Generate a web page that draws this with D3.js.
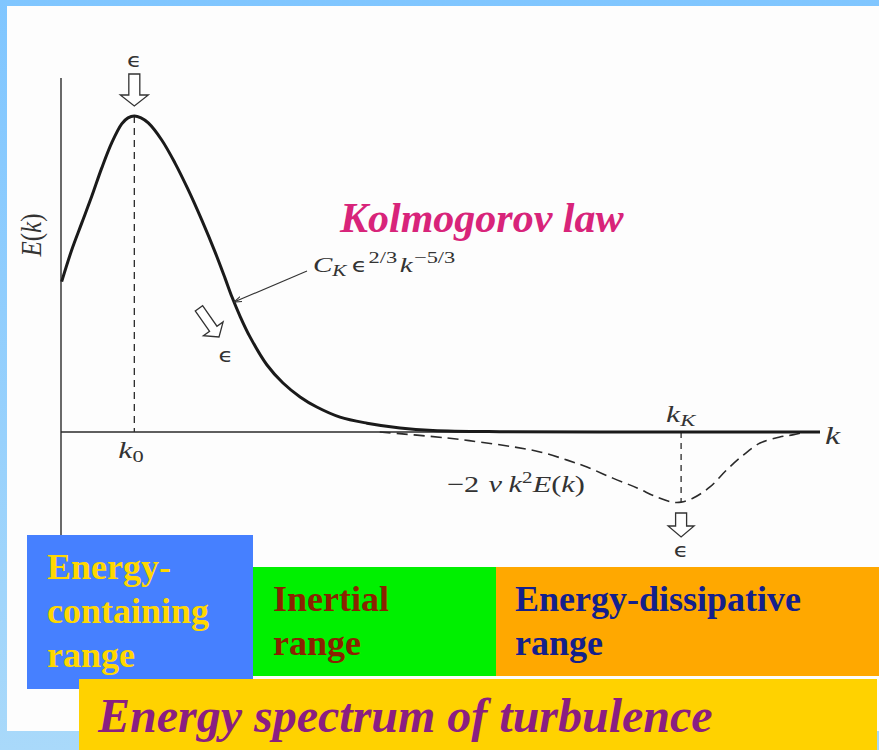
<!DOCTYPE html>
<html>
<head>
<meta charset="utf-8">
<script src="https://cdn.jsdelivr.net/npm/d3@7"></script>
<style>
  html, body { margin: 0; padding: 0; background: #fff; }
  #container { width: 879px; height: 750px; }
</style>
</head>
<body>
<div id="container"></div>
<script>
// Declare the chart dimensions.
const width = 879;
const height = 750;
const serif = "'Liberation Serif', 'Times New Roman', serif";

// Energy spectrum E(k) (k in arbitrary units, E scaled to peak = 1).
const kSpectrum = [0.09, 1.41, 2.73, 4.04, 5.36, 6.68, 8.0, 8.83, 9.66, 10.54, 11.5, 13.27, 15.02, 16.77, 18.54, 20.29, 21.61, 22.53, 23.58, 24.9, 27.14, 29.25, 31.5, 33.7, 36.76, 40.32, 44.66, 49.0, 57.8, 71, 100];
const eSpectrum = [0.476, 0.576, 0.661, 0.745, 0.835, 0.915, 0.975, 0.994, 1.0, 0.994, 0.978, 0.924, 0.851, 0.766, 0.671, 0.570, 0.487, 0.427, 0.367, 0.301, 0.212, 0.155, 0.111, 0.079, 0.047, 0.028, 0.013, 0.005, 0.001, 0, 0];

// Dissipation spectrum -2 nu k^2 E(k).
const kDissip = [42.0, 50.9, 55.2, 59.6, 63.1, 66.7, 69.3, 72.7, 75.9, 78.5, 80.6, 81.7, 83.3, 85.5, 87.7, 89.9, 92.1, 94.7, 96.4, 98.0];
const dDissip = [0, -0.019, -0.032, -0.047, -0.063, -0.089, -0.111, -0.146, -0.177, -0.206, -0.222, -0.222, -0.209, -0.174, -0.120, -0.073, -0.035, -0.016, -0.009, 0];

// Special wavenumbers and axis extents.
const k0 = 9.66;
const kK = 81.7;
const kAnnot = 22.53;
const kDomain = [0, 100];
const yExtent = [-0.33, 1.12];

// Range labels under the chart.
const rangeLabels = [
  ["Energy-", "containing", "range"],
  ["Inertial", "range"],
  ["Energy-dissipative", "range"]
];
const title = "Energy spectrum of turbulence";
const lawLabel = "Kolmogorov law";

// Scales.
const x = d3.scaleLinear().domain(kDomain).range([61, 820]);
const y = d3.scaleLinear().domain([0, 1]).range([432, 116]);

const svg = d3.create("svg").attr("width", width).attr("height", height)
  .attr("viewBox", [0, 0, width, height]);

// Slide background: blue frame and white page.
const defs = svg.append("defs");
const grad = defs.append("linearGradient").attr("id", "frame")
  .attr("x1", 0).attr("y1", 0).attr("x2", 0).attr("y2", 1);
grad.append("stop").attr("offset", "0%").attr("stop-color", "#80c6ff");
grad.append("stop").attr("offset", "100%").attr("stop-color", "#a9d9fa");
svg.append("rect").attr("width", width).attr("height", height).attr("fill", "url(#frame)");
svg.append("rect").attr("x", 7).attr("y", 6).attr("width", width - 7).attr("height", 725).attr("fill", "#fdfdfd");

// Arrowhead for the annotation line.
defs.append("marker").attr("id", "head").attr("viewBox", "0 0 10 10")
  .attr("refX", 10).attr("refY", 5).attr("markerWidth", 7).attr("markerHeight", 7)
  .attr("orient", "auto-start-reverse")
  .append("path").attr("d", "M0,1.5L10,5L0,8.5").attr("fill", "none").attr("stroke", "#333").attr("stroke-width", 1.3);

const ink = "#2a2a2a";

// Axes (no ticks, just the lines).
svg.append("line")
  .attr("x1", x(0)).attr("x2", x(0))
  .attr("y1", y(yExtent[1])).attr("y2", y(yExtent[0]))
  .attr("stroke", ink).attr("stroke-width", 1.4);
svg.append("g")
  .attr("transform", `translate(0,${y(0)})`)
  .call(d3.axisBottom(x).tickValues([]).tickSizeOuter(0))
  .call(g => g.select(".domain").attr("stroke", ink).attr("stroke-width", 1.6).attr("d", `M${x(0)},0H${x(100)}`));

// Dashed guides at k0 and kK.
const eAt = k => eSpectrum[kSpectrum.indexOf(k)];
const dMin = d3.min(dDissip);
svg.append("line")
  .attr("x1", x(k0)).attr("x2", x(k0)).attr("y1", y(eAt(k0))).attr("y2", y(0))
  .attr("stroke", ink).attr("stroke-width", 1.3).attr("stroke-dasharray", "7,5");
svg.append("line")
  .attr("x1", x(kK)).attr("x2", x(kK)).attr("y1", y(0)).attr("y2", y(dMin))
  .attr("stroke", ink).attr("stroke-width", 1.3).attr("stroke-dasharray", "6,5");

// Dissipation curve (dashed).
const line = d3.line().x(d => x(d[0])).y(d => y(d[1])).curve(d3.curveCatmullRom.alpha(0.5));
svg.append("path")
  .attr("d", line(d3.zip(kDissip, dDissip)))
  .attr("fill", "none").attr("stroke", ink).attr("stroke-width", 1.6).attr("stroke-dasharray", "11,6");

// Energy spectrum (solid, thick).
svg.append("path")
  .attr("d", line(d3.zip(kSpectrum, eSpectrum)))
  .attr("fill", "none").attr("stroke", "#1a1a1a").attr("stroke-width", 3);

// Hollow arrow: tip at (0,0), pointing down before rotation.
function hollowArrow(tx, ty, len, shaftW, headW, headL, angle) {
  const s = shaftW / 2, h = headW / 2;
  const pts = [[-s, -len], [s, -len], [s, -headL], [h, -headL], [0, 0], [-h, -headL], [-s, -headL]];
  svg.append("path")
    .attr("d", "M" + pts.join("L") + "Z")
    .attr("transform", `translate(${tx},${ty}) rotate(${angle})`)
    .attr("fill", "#fff").attr("stroke", "#333").attr("stroke-width", 1.3);
}
hollowArrow(x(k0), 106, 32, 11, 28, 11, 0);
hollowArrow(219, 337, 35, 9, 24, 10, -35);
hollowArrow(x(kK), 537, 24, 11, 26, 11, 0);

// Epsilon labels (the scanned figure is stretched sideways, so glyphs are widened).
const eps = (px, py) => svg.append("text")
  .attr("transform", `translate(${px},${py}) scale(1.2,1)`)
  .attr("text-anchor", "middle").attr("font-family", "DejaVu Sans")
  .attr("font-size", 20).attr("fill", "#333").text("ϵ");
eps(x(k0), 67);
eps(226, 362);
eps(x(kK), 557);

// Math labels.
const math = (px, py, size) => svg.append("text")
  .attr("transform", `translate(${px},${py}) scale(1.32,1)`)
  .attr("font-family", serif).attr("font-size", size).attr("fill", "#333");

const lk0 = math(x(k0) - 16, 458, 24);
lk0.append("tspan").attr("font-style", "italic").text("k");
lk0.append("tspan").attr("font-size", 17).attr("dy", 4).text("0");

const lkK = math(x(kK) - 15, 422, 24);
lkK.append("tspan").attr("font-style", "italic").text("k");
lkK.append("tspan").attr("font-style", "italic").attr("font-size", 17).attr("dy", 4).text("K");

math(825, 444, 26).attr("font-style", "italic").text("k");

const lE = svg.append("text").attr("transform", "translate(41,235) rotate(-90) scale(1,1.2)")
  .attr("font-family", serif).attr("font-size", 25).attr("fill", "#333").attr("text-anchor", "middle");
lE.append("tspan").attr("font-style", "italic").text("E");
lE.append("tspan").text("(");
lE.append("tspan").attr("font-style", "italic").text("k");
lE.append("tspan").text(")");

const lLaw = math(313, 272, 22);
lLaw.append("tspan").attr("font-style", "italic").text("C");
lLaw.append("tspan").attr("font-style", "italic").attr("font-size", 16).attr("dy", 4).text("K");
lLaw.append("tspan").attr("font-family", "DejaVu Sans").attr("font-size", 19).attr("dy", -4).attr("dx", 4).text("ϵ");
lLaw.append("tspan").attr("font-size", 17).attr("dy", -9).attr("dx", 1).text("2/3");
lLaw.append("tspan").attr("font-style", "italic").attr("dy", 9).attr("dx", 2).text("k");
lLaw.append("tspan").attr("font-size", 17).attr("dy", -9).attr("dx", 1).text("−5/3");

svg.append("line")
  .attr("x1", 307).attr("y1", 271).attr("x2", x(kAnnot) + 2).attr("y2", y(eAt(kAnnot)) + 5)
  .attr("stroke", "#333").attr("stroke-width", 1.1).attr("marker-end", "url(#head)");

const lDis = math(447, 492, 23);
lDis.append("tspan").text("−2");
lDis.append("tspan").attr("font-style", "italic").attr("dx", 7).text("ν");
lDis.append("tspan").attr("font-style", "italic").attr("dx", 5).text("k");
lDis.append("tspan").attr("font-size", 16).attr("dy", -9).text("2");
lDis.append("tspan").attr("font-style", "italic").attr("dy", 9).text("E");
lDis.append("tspan").text("(");
lDis.append("tspan").attr("font-style", "italic").text("k");
lDis.append("tspan").text(")");

// Kolmogorov law title.
svg.append("text").attr("x", 340).attr("y", 232)
  .attr("font-family", serif).attr("font-weight", "bold").attr("font-style", "italic")
  .attr("font-size", 42).attr("fill", "#d8247a").text(lawLabel);

// Range boxes.
const boxes = [
  {x: 27, y: 535, w: 226, h: 154, fill: "#4680ff", color: "#ffd700", tx: 47, ty: 579, dy: 44},
  {x: 253, y: 567, w: 243, h: 109, fill: "#00f000", color: "#8a2200", tx: 273, ty: 611, dy: 44},
  {x: 496, y: 567, w: 383, h: 109, fill: "#ffa800", color: "#14208c", tx: 515, ty: 611, dy: 44}
];
boxes.forEach((b, i) => {
  svg.append("rect").attr("x", b.x).attr("y", b.y).attr("width", b.w).attr("height", b.h).attr("fill", b.fill);
  const t = svg.append("text").attr("font-family", serif).attr("font-weight", "bold")
    .attr("font-size", 36).attr("fill", b.color);
  rangeLabels[i].forEach((s, j) => t.append("tspan").attr("x", b.tx).attr("y", b.ty + j * b.dy).text(s));
});

// Title banner.
svg.append("rect").attr("x", 79).attr("y", 679).attr("width", 798).attr("height", 71).attr("fill", "#ffd200");
svg.append("text").attr("x", 98).attr("y", 732)
  .attr("font-family", serif).attr("font-weight", "bold").attr("font-style", "italic")
  .attr("font-size", 48).attr("fill", "#8a1e82").text(title);

document.getElementById("container").append(svg.node());
</script>
</body>
</html>
